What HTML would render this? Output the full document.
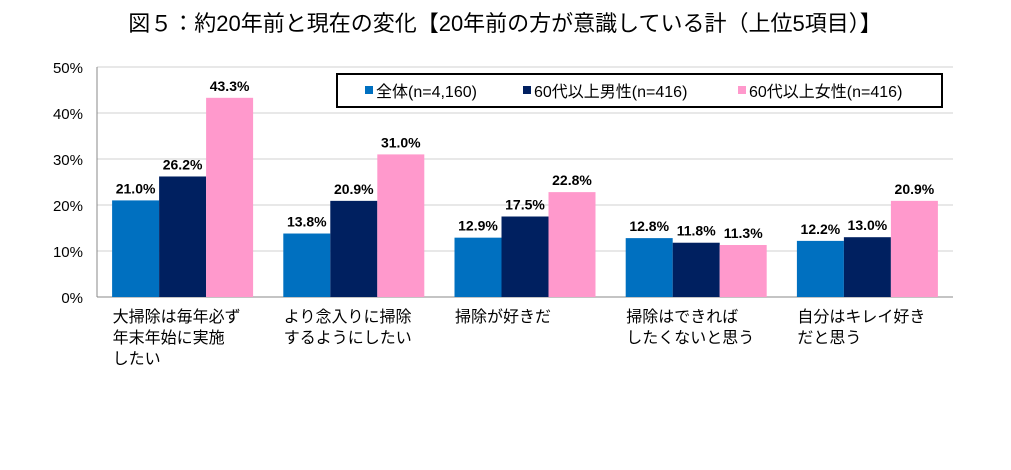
<!DOCTYPE html>
<html><head><meta charset="utf-8"><style>
body{margin:0;background:#fff;width:1011px;height:465px;overflow:hidden}
svg text{font-family:"Liberation Sans","Noto Sans CJK JP",sans-serif}
</style></head><body>
<svg id="c" width="1011" height="465">
<text x="505" y="31" text-anchor="middle" font-size="22" fill="#000">図５：約20年前と現在の変化【20年前の方が意識している計（上位5項目）】</text>
<g id="grid"></g><g id="bars"></g><g id="labels"></g>
<g>
<rect x="337" y="74" width="605" height="33" fill="#fff" stroke="#000" stroke-width="2"/>
<rect x="365" y="86" width="8" height="8" fill="#0070C0"/><text x="376" y="97" font-size="16">全体(n=4,160)</text>
<rect x="523" y="86" width="8" height="8" fill="#002060"/><text x="534" y="97" font-size="16">60代以上男性(n=416)</text>
<rect x="738" y="86" width="8" height="8" fill="#FF99CC"/><text x="749" y="97" font-size="16">60代以上女性(n=416)</text>
</g>
</svg>
<script>
const categories=[["大掃除は毎年必ず","年末年始に実施","したい"],["より念入りに掃除","するようにしたい"],["掃除が好きだ"],["掃除はできれば","したくないと思う"],["自分はキレイ好き","だと思う"]];
const seriesAll=[21.0,13.8,12.9,12.8,12.2];
const seriesMen=[26.2,20.9,17.5,11.8,13.0];
const seriesWomen=[43.3,31.0,22.8,11.3,20.9];
const yTicks=[0,10,20,30,40,50];
const series=[[seriesAll,"#0070C0","all"],[seriesMen,"#002060","men60"],[seriesWomen,"#FF99CC","women60"]];
const NS="http://www.w3.org/2000/svg";
const L=97,R=953,T=67,B=297,yMax=50;
const y=v=>B-(v/yMax)*(B-T);
const gw=(R-L)/categories.length,bw=47;
const grid=document.getElementById('grid'),bars=document.getElementById('bars'),labels=document.getElementById('labels');
function mk(tag,a,p){const e=document.createElementNS(NS,tag);for(const k in a)e.setAttribute(k,a[k]);p.appendChild(e);return e;}
yTicks.forEach(t=>{
 const l=mk('line',{x1:L,x2:R,y1:y(t),y2:y(t),stroke:t===0?'#888':'#d0d0d0','stroke-width':1},grid);
 
 
 const tx=mk('text',{x:L-14,y:y(t)+6,'text-anchor':'end','font-size':15},grid);tx.textContent=t+'%';
 
 
});
const ax=mk('line',{x1:L,x2:L,y1:T,y2:B,stroke:'#888'},grid);


categories.forEach((c,i)=>{
 const cx=L+gw*(i+0.5);
 series.forEach(([vals,col,nm],j)=>{
  const x=cx-1.5*bw+j*bw,v=vals[i];
  const r=mk('rect',{x:x,y:y(v),width:bw,height:B-y(v),fill:col},bars);
  
  
  const t=mk('text',{x:x+bw/2,y:y(v)-7,'text-anchor':'middle','font-size':14,'font-weight':'bold'},labels);
  t.textContent=v.toFixed(1)+'%';
  
  
 });
 c.forEach((line,k)=>{
  const t=mk('text',{x:cx-70,y:322+k*21,'font-size':16},labels);
  t.textContent=line;
  
  
 });
});
</script>
</body></html>
